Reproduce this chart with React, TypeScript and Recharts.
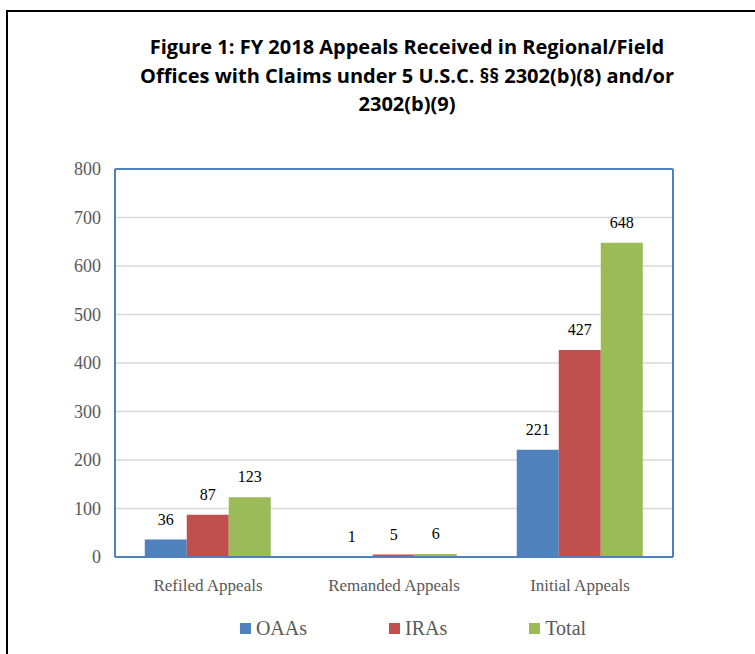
import React from "react";
import { BarChart, Bar, XAxis, YAxis, CartesianGrid, Legend, LabelList } from "recharts";

const categories = ["Refiled Appeals", "Remanded Appeals", "Initial Appeals"];
const seriesNames = ["OAAs", "IRAs", "Total"];
const oaas = [36, 1, 221];
const iras = [87, 5, 427];
const total = [123, 6, 648];
const yTicks = [0, 100, 200, 300, 400, 500, 600, 700, 800];
const titleLines = [
  "Figure 1: FY 2018 Appeals Received in Regional/Field",
  "Offices with Claims under 5 U.S.C. §§ 2302(b)(8) and/or",
  "2302(b)(9)",
];

const data = categories.map((name, i) => ({ name, OAAs: oaas[i], IRAs: iras[i], Total: total[i] }));

const BLUE = "#4F81BD";
const RED = "#C0504D";
const GREEN = "#9BBB59";
const SERIF = "'Liberation Serif', 'Times New Roman', serif";

const LegendContent = (props: any) => {
  const { payload = [] } = props;
  const ordered = seriesNames
    .map((n) => payload.find((p: any) => p.value === n))
    .filter(Boolean);
  return (
    <div style={{ display: "flex", justifyContent: "center", alignItems: "center", fontFamily: SERIF, fontSize: 20, color: "#595959" }}>
      {ordered.map((p: any, i: number) => (
        <div key={i} style={{ display: "flex", alignItems: "center", marginLeft: i === 0 ? 0 : 82 }}>
          <span style={{ width: 11, height: 11, background: p.color, display: "inline-block", marginRight: 5 }} />
          <span>{p.value}</span>
        </div>
      ))}
    </div>
  );
};

export default function App() {
  return (
    <div style={{ position: "absolute", left: 0, top: 0, width: 755, height: 654, background: "#fff", overflow: "hidden", fontFamily: SERIF }}>
      <div style={{ position: "absolute", left: 6, top: 10, width: 800, height: 700, border: "2px solid #000", boxSizing: "border-box" }} />
      <div
        style={{
          position: "absolute",
          left: 57,
          top: 33,
          width: 700,
          textAlign: "center",
          fontFamily: "'Open Sans', 'Noto Sans', sans-serif",
          fontWeight: 700,
          fontSize: 20,
          lineHeight: "28.5px",
          color: "#000",
        }}
      >
        {titleLines.map((t, i) => (
          <div key={i}>{t}</div>
        ))}
      </div>
      <div style={{ position: "absolute", left: 0, top: 0 }}>
        <BarChart
          width={755}
          height={654}
          data={data}
          margin={{ top: 168, right: 81, left: 10, bottom: 37 }}
          barCategoryGap="16%"
          barGap={0}
          style={{ fontFamily: SERIF }}
        >
          <CartesianGrid vertical={false} stroke="#D9D9D9" strokeWidth={1.5} />
          <XAxis
            dataKey="name"
            axisLine={{ stroke: BLUE, strokeWidth: 2 }}
            tickLine={false}
            tickSize={0}
            tickMargin={22}
            height={30}
            tick={{ fill: "#595959", fontSize: 17, fontFamily: SERIF }}
          />
          <XAxis xAxisId="top" dataKey="name" orientation="top" height={1} tick={false} tickLine={false} axisLine={{ stroke: BLUE, strokeWidth: 2 }} />
          <YAxis
            domain={[0, 800]}
            ticks={yTicks}
            width={105}
            axisLine={{ stroke: BLUE, strokeWidth: 2 }}
            tickLine={false}
            tickSize={0}
            tickMargin={14}
            tick={{ fill: "#595959", fontSize: 18, fontFamily: SERIF }}
          />
          <YAxis yAxisId="right" orientation="right" domain={[0, 800]} ticks={yTicks} width={1} tick={false} tickLine={false} axisLine={{ stroke: BLUE, strokeWidth: 2 }} />
          <Legend
            verticalAlign="bottom"
            content={<LegendContent />}
            wrapperStyle={{ position: "absolute", left: 0, width: 826, top: 617, height: 30 }}
          />
          <Bar dataKey="OAAs" name="OAAs" fill={BLUE} isAnimationActive={false}>
            <LabelList dataKey="OAAs" position="top" offset={15} fill="#000" fontSize={16} fontFamily={SERIF} style={{ fontFamily: SERIF }} />
          </Bar>
          <Bar dataKey="IRAs" name="IRAs" fill={RED} isAnimationActive={false}>
            <LabelList dataKey="IRAs" position="top" offset={15} fill="#000" fontSize={16} fontFamily={SERIF} style={{ fontFamily: SERIF }} />
          </Bar>
          <Bar dataKey="Total" name="Total" fill={GREEN} isAnimationActive={false}>
            <LabelList dataKey="Total" position="top" offset={15} fill="#000" fontSize={16} fontFamily={SERIF} style={{ fontFamily: SERIF }} />
          </Bar>
        </BarChart>
      </div>
    </div>
  );
}
